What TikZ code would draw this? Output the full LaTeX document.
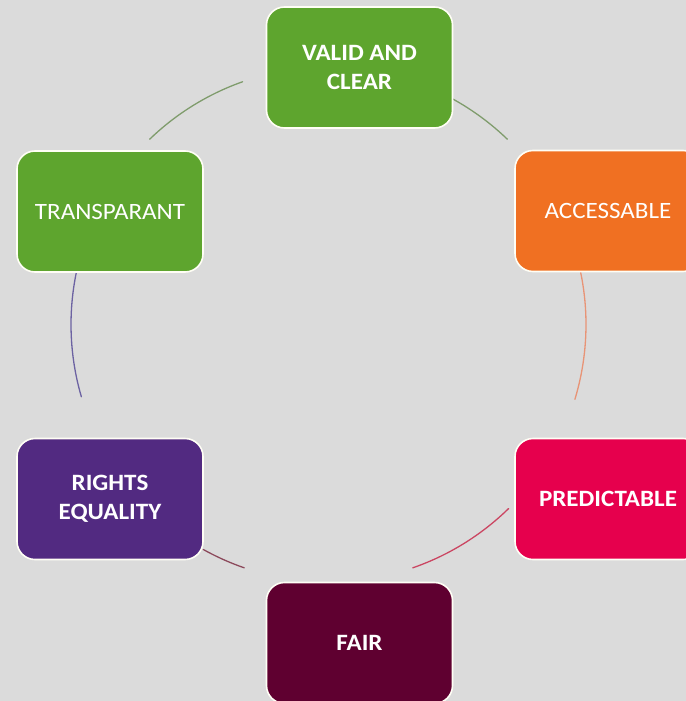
\documentclass[tikz,border=0pt]{standalone}
\usepackage{fontspec}
\setmainfont[FakeStretch=1.07]{Carlito}
\begin{document}
\begin{tikzpicture}[x=1bp,y=-1bp,
  stage/.style={rectangle, rounded corners=18bp, minimum width=186bp, minimum height=121bp,
    draw=white!96!yellow, line width=1.6bp, text=white, align=center, inner sep=0pt,
    font=\fontsize{23.5}{29}\selectfont},
  link/.style={line width=1.3bp, line cap=round}]
\definecolor{bg}{HTML}{DBDBDB}
\definecolor{cgreen}{HTML}{5EA52E}
\definecolor{corange}{HTML}{F07022}
\definecolor{cpink}{HTML}{E6004D}
\definecolor{cmaroon}{HTML}{5F0030}
\definecolor{cpurple}{HTML}{522A81}
\definecolor{lgreen}{HTML}{7F9C6C}
\definecolor{lorange}{HTML}{E89476}
\definecolor{lpink}{HTML}{CB4662}
\definecolor{lmaroon}{HTML}{8C4A5C}
\definecolor{lpurple}{HTML}{6C62A2}
\fill[bg] (0,0) rectangle (686,701);
\useasboundingbox (0,0) rectangle (686,701);
\clip (0,0) rectangle (686,701);

% circle that carries the connecting arcs (y axis points down, so angles run clockwise)
\coordinate (ctr) at (328.5,324.5);
\def\rad{257.5}

\draw[link, lgreen]  ([shift={(-109.5:\rad)}]ctr) arc[start angle=-109.5, end angle=-134, radius=\rad];
\draw[link, lgreen]  ([shift={(-61.2:\rad)}]ctr)  arc[start angle=-61.2,  end angle=-46,  radius=\rad];
\draw[link, lorange] ([shift={(-11.7:\rad)}]ctr)  arc[start angle=-11.7,  end angle=16.9, radius=\rad];
\draw[link, lpink]   ([shift={(45.6:\rad)}]ctr)   arc[start angle=45.6,   end angle=70.9, radius=\rad];
\draw[link, lmaroon] ([shift={(109.1:\rad)}]ctr)  arc[start angle=109.1,  end angle=119.1, radius=\rad];
\draw[link, lpurple] ([shift={(-168.3:\rad)}]ctr) arc[start angle=-168.3, end angle=-196.3, radius=\rad];

% stages
\node[stage, fill=cgreen]  (valid)  at (359.5,67.5) {\bfseries VALID AND\\\bfseries CLEAR};
\node[stage, fill=corange] (access) at (608,211)    {ACCESSABLE};
\node[stage, fill=cpink]   (pred)   at (608,499)    {\bfseries PREDICTABLE};
\node[stage, fill=cmaroon] (fair)   at (359.5,643)  {\bfseries FAIR};
\node[stage, fill=cpurple] (rights) at (110,499)    {\bfseries RIGHTS\\\bfseries EQUALITY};
\node[stage, fill=cgreen]  (transp) at (110,211.5)  {TRANSPARANT};
\end{tikzpicture}
\end{document}
